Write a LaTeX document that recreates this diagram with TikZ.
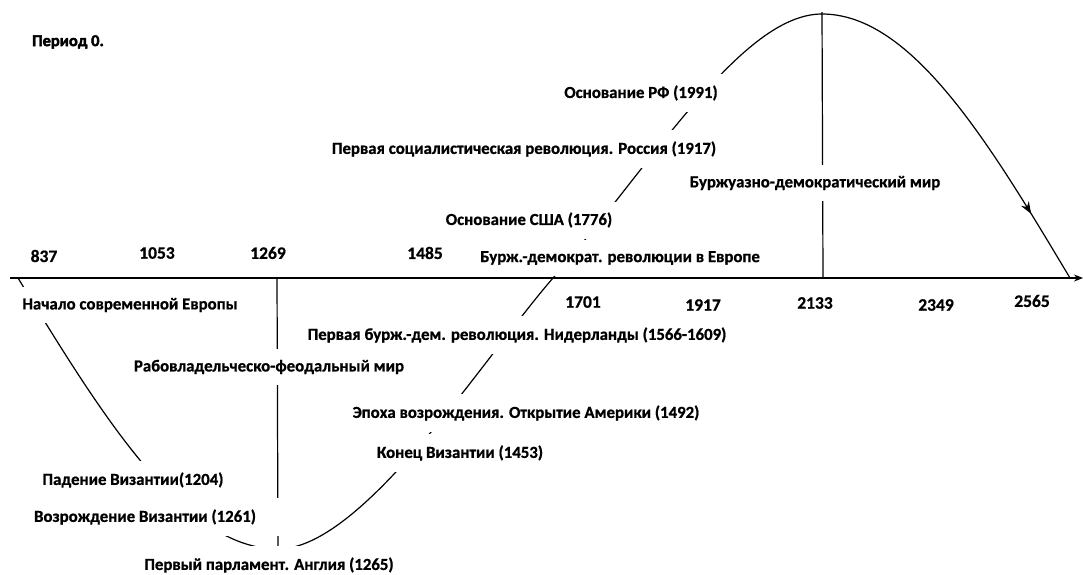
\documentclass[tikz,border=0pt]{standalone}
\usepackage{fontspec}
\setmainfont{Carlito}[BoldFeatures={FakeBold=0.8}]
\newfontfamily\heavyfont{Carlito}[UprightFont=*-Bold, FakeBold=2.5]
\usetikzlibrary{arrows.meta,decorations.markings}
\begin{document}
\begin{tikzpicture}[x=1pt,y=-1pt,
  lbl/.style={font=\fontsize{16.8}{19}\selectfont\bfseries, fill=white, inner xsep=5pt, inner ysep=11pt},
  yr/.style={font=\fontsize{17.5}{20}\selectfont\bfseries, inner sep=1pt},
  ttl/.style={font=\fontsize{16.5}{19}\selectfont\heavyfont, inner sep=1pt},
  ln/.style={line width=1.2pt, black}]
\useasboundingbox (0,0) rectangle (1083,574);
% coordinates
\coordinate (s0) at (18,278);
\coordinate (mn) at (278,549);
\coordinate (z1) at (553,278);
\coordinate (mx) at (822,14);
\coordinate (z2) at (1070,278);
\coordinate (a0) at (10,278);
\coordinate (a1) at (1083,278);
\coordinate (v1t) at (277,278);
\coordinate (v1b) at (278,549);
\coordinate (v2t) at (822,12);
\coordinate (v2b) at (823,278);
% axis
\draw[ln,-{Stealth[length=9pt,width=7pt]}] (a0) -- (a1);
% vertical dividers
\draw[ln] (v1t) -- (v1b);
\draw[ln] (v2t) -- (v2b);
% curve
\draw[ln] (s0) sin (mn)
   .. controls (363,549) and (483,358.5) .. (z1)
   .. controls (653,163) and (742,14) .. (mx);
\draw[ln, postaction={decorate}, decoration={markings, mark=at position 0.80 with {\arrow{Stealth[length=12pt,width=9pt]}}}] (mx) cos (z2);
% title
\node[ttl, anchor=west] (title) at (31,42) {Период 0.};
% years
\node[yr] (y837) at (44,256) {837};
\node[yr] (y1053) at (157,253) {1053};
\node[yr] (y1269) at (268,253) {1269};
\node[yr] (y1485) at (425,253) {1485};
\node[yr] (y1701) at (583,302) {1701};
\node[yr] (y1917) at (703,305) {1917};
\node[yr] (y2133) at (815,303) {2133};
\node[yr] (y2349) at (936,305) {2349};
\node[yr] (y2565) at (1032,301) {2565};
% labels
\node[lbl] (europe) at (130,305) {Начало современной Европы};
\node[lbl] (feud) at (269,367) {Рабовладельческо-феодальный мир};
\node[lbl] (fall) at (133,480) {Падение Византии(1204)};
\node[lbl, minimum width=274pt] (revive) at (145,517) {Возрождение Византии (1261)};
\node[lbl] (parl) at (269,565) {Первый парламент. Англия (1265)};
\node[lbl] (neth) at (517,335) {Первая бурж.-дем. революция. Нидерланды (1566-1609)};
\node[lbl] (renai) at (526,413) {Эпоха возрождения. Открытие Америки (1492)};
\node[lbl] (byzend) at (460,453) {Конец Византии (1453)};
\node[lbl] (eurrev) at (620,258) {Бурж.-демократ. революции в Европе};
\node[lbl] (usa) at (529,220) {Основание США (1776)};
\node[lbl] (soc) at (524,149) {Первая социалистическая революция. Россия (1917)};
\node[lbl] (rf) at (641,93) {Основание РФ (1991)};
\node[lbl] (bourg) at (815,183) {Буржуазно-демократический мир};
\end{tikzpicture}
\end{document}
